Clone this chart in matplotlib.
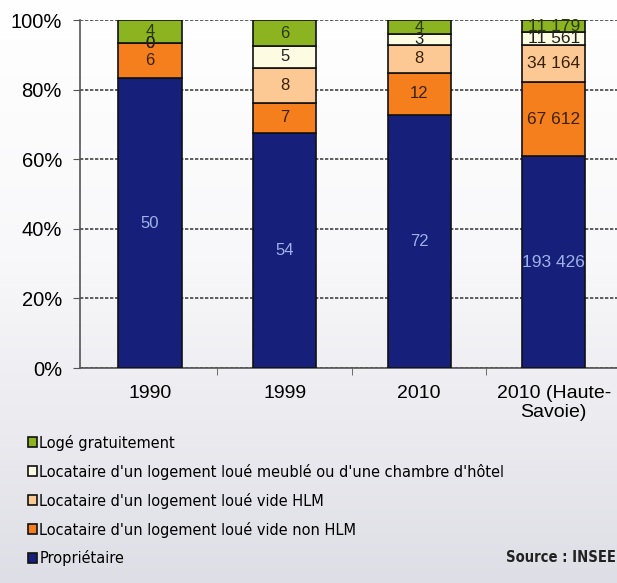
import numpy as np
import matplotlib.pyplot as plt
from matplotlib.colors import LinearSegmentedColormap

# statut d'occupation des residences principales
categories = ['1990', '1999', '2010', '2010 (Haute-\nSavoie)']
proprietaire = [50, 54, 72, 193426]
vide_non_hlm = [6, 7, 12, 67612]
vide_hlm = [0, 8, 8, 34164]
meuble = [0, 5, 3, 11561]
gratuit = [4, 6, 4, 11179]

series = [
    ('Propriétaire', proprietaire, '#16207a', '#9fb2e6'),
    ("Locataire d'un logement loué vide non HLM", vide_non_hlm, '#f47f1c', '#3a2208'),
    ("Locataire d'un logement loué vide HLM", vide_hlm, '#fcc995', '#3a2208'),
    ("Locataire d'un logement loué meublé ou d'une chambre d'hôtel", meuble, '#fdfbe2', '#222222'),
    ('Logé gratuitement', gratuit, '#8cb320', '#2a3a08'),
]

plt.rcParams['font.family'] = ['Liberation Sans', 'DejaVu Sans']

fig = plt.figure(figsize=(6.17, 5.83), dpi=100)

# fond degrade
bg = fig.add_axes([0, 0, 1, 1], zorder=-10)
cmap = LinearSegmentedColormap.from_list('bg', [(0, '#ffffff'), (0.45, '#f8f8fa'), (1, '#dedee6')])
bg.imshow(np.linspace(0, 1, 256).reshape(-1, 1), aspect='auto', cmap=cmap,
          extent=[0, 1, 0, 1])
bg.set_axis_off()

ax = fig.add_axes([80 / 617, 1 - 368 / 583, 1 - 80 / 617, (368 - 20) / 583])
ax.patch.set_alpha(0)

x = np.arange(len(categories))
totals = np.sum([s[1] for s in series], axis=0).astype(float)
bottom = np.zeros(len(categories))
width = 0.47
containers = []
for name, vals, col, tcol in series:
    pct = np.array(vals) / totals * 100
    bars = ax.bar(x, pct, width, bottom=bottom, color=col, edgecolor='#111111',
                  linewidth=1.2, label=name, zorder=3)
    containers.append(bars)
    for i, rect in enumerate(bars):
        lab = f'{vals[i]:,}'.replace(',', ' ')
        t = ax.text(x[i], bottom[i] + pct[i] / 2, lab, ha='center', va='center',
                    fontsize=12 if vals[i] < 1000 else 12.5, color=tcol, zorder=4)
        t.set_clip_path(rect)
    bottom += pct

ax.set_ylim(0, 100)
ax.set_xlim(-0.52, 3.47)
ax.set_yticks(np.arange(0, 101, 20))
ax.set_yticklabels([f'{v}%' for v in range(0, 101, 20)], fontsize=14.5)
ax.yaxis.grid(True, linestyle=(0, (2, 1)), color='#444444', linewidth=1.2, zorder=0)
ax.set_xticks(x)
ax.set_xticklabels(categories, fontsize=14)
ax.set_xticks([0.5, 1.5, 2.5], minor=True)
ax.tick_params(axis='x', which='major', length=0, pad=12)
ax.tick_params(axis='x', which='minor', length=5, color='#555555')
ax.tick_params(axis='y', length=5, color='#555555', pad=8)
for s in ['top', 'right']:
    ax.spines[s].set_visible(False)
for s in ['left', 'bottom']:
    ax.spines[s].set_color('#555555')
    ax.spines[s].set_linewidth(1.2)

handles = containers[::-1]
labels = [s[0] for s in series][::-1]
fig.legend(handles, labels, loc='upper left', bbox_to_anchor=(0.035, 0.265),
           frameon=False, handlelength=0.55, handleheight=0.55, handletextpad=0.15,
           labelspacing=0.79, borderaxespad=0,
           prop={'family': 'DejaVu Sans', 'stretch': 'condensed', 'size': 11.7})

fig.text(0.998, 1 - 557 / 583, 'Source : INSEE', ha='right', va='center',
         fontsize=10.5, fontweight='bold', color='#222222',
         family='DejaVu Sans', stretch='condensed')

fig.savefig('out.png', dpi=100)
